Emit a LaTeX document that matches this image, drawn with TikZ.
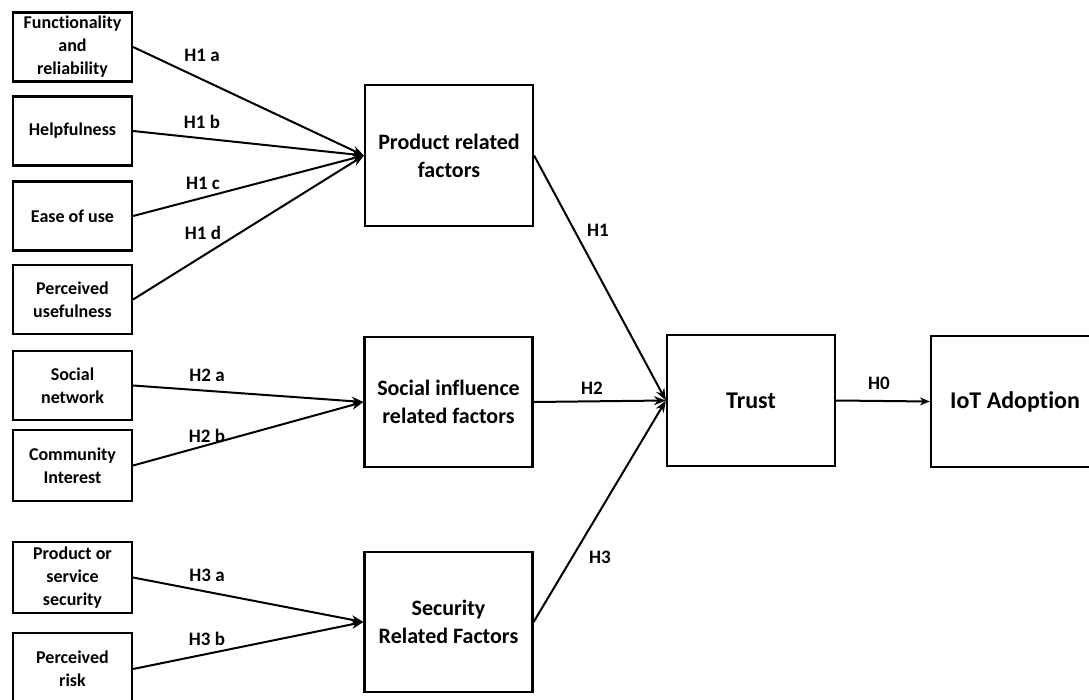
\documentclass[tikz,border=0pt]{standalone}
\usepackage{fontspec}
\setmainfont{Carlito}[RawFeature={-liga;-clig;-calt;-dlig}]
\usetikzlibrary{arrows.meta}
\tikzstyle{factor} = [draw, line width=2.2pt, minimum width=119pt, minimum height=69pt, inner sep=1pt, align=center, font=\fontsize{18}{23}\selectfont\bfseries]
\tikzstyle{construct} = [draw, line width=2.2pt, minimum width=168pt, align=center, font=\fontsize{22}{28}\selectfont\bfseries]
\tikzstyle{hyp} = [font=\fontsize{19}{20}\selectfont\bfseries]
\tikzstyle{link} = [line width=2pt, -{Stealth[length=12pt, width=9pt]}]

\begin{document}
\begin{tikzpicture}[x=1pt, y=-1pt]
      \useasboundingbox (0, 0) rectangle (1089, 700);
      \node[factor] (func) at (72.5, 47) {Functionality\\and\\reliability};
      \node[factor] (help) at (72.5, 131) {Helpfulness};
      \node[factor] (ease) at (72.5, 216) {Ease of use};
      \node[factor] (useful) at (72.5, 299.5) {Perceived\\usefulness};
      \node[factor] (network) at (72.5, 385.5) {Social\\network};
      \node[factor, minimum height=71pt] (community) at (72.5, 465.5) {Community\\Interest};
      \node[factor, minimum height=71pt] (service) at (72.5, 577.5) {Product or\\service\\security};
      \node[factor, minimum height=72pt] (risk) at (72.5, 669) {Perceived\\risk};

      \node[construct, minimum height=141pt] (product) at (449, 155.5) {Product related\\factors};
      \node[construct, minimum height=130pt] (social) at (448.5, 402) {Social influence\\related factors};
      \node[construct, minimum height=140pt] (security) at (448.5, 622) {Security\\Related Factors};
      \node[construct, minimum height=131pt, font=\fontsize{24}{28}\selectfont\bfseries] (trust) at (751, 400.5) {Trust};
      \node[construct, minimum height=131pt, font=\fontsize{24}{28}\selectfont\bfseries] (iot) at (1015, 401.5) {IoT Adoption};

      \node[hyp] (h1a) at (202, 55) {H1 a};
      \node[hyp] (h1b) at (202, 122) {H1 b};
      \node[hyp] (h1c) at (203, 183) {H1 c};
      \node[hyp] (h1d) at (203, 233) {H1 d};
      \node[hyp] (h2a) at (207, 375) {H2 a};
      \node[hyp] (h2b) at (207, 436) {H2 b};
      \node[hyp] (h3a) at (207, 575) {H3 a};
      \node[hyp] (h3b) at (207, 639) {H3 b};
      \node[hyp] (h1) at (598, 230) {H1};
      \node[hyp] (h2) at (592, 388) {H2};
      \node[hyp] (h3) at (600, 557) {H3};
      \node[hyp] (h0) at (879, 383) {H0};

      \draw[link] (func.east) -- (product.west);
      \draw[link] (help.east) -- (product.west);
      \draw[link] (ease.east) -- (product.west);
      \draw[link] (useful.east) -- (product.west);
      \draw[link] (network.east) -- (social.west);
      \draw[link] (community.east) -- (social.west);
      \draw[link] (service.east) -- (security.west);
      \draw[link] (risk.east) -- (security.west);
      \draw[link] (product.east) -- (trust.west);
      \draw[link] (social.east) -- (trust.west);
      \draw[link] (security.east) -- (trust.west);
      \draw[link, -{Stealth[length=10pt, width=8pt]}] (trust.east) -- (iot.west);
    \end{tikzpicture}
\end{document}
